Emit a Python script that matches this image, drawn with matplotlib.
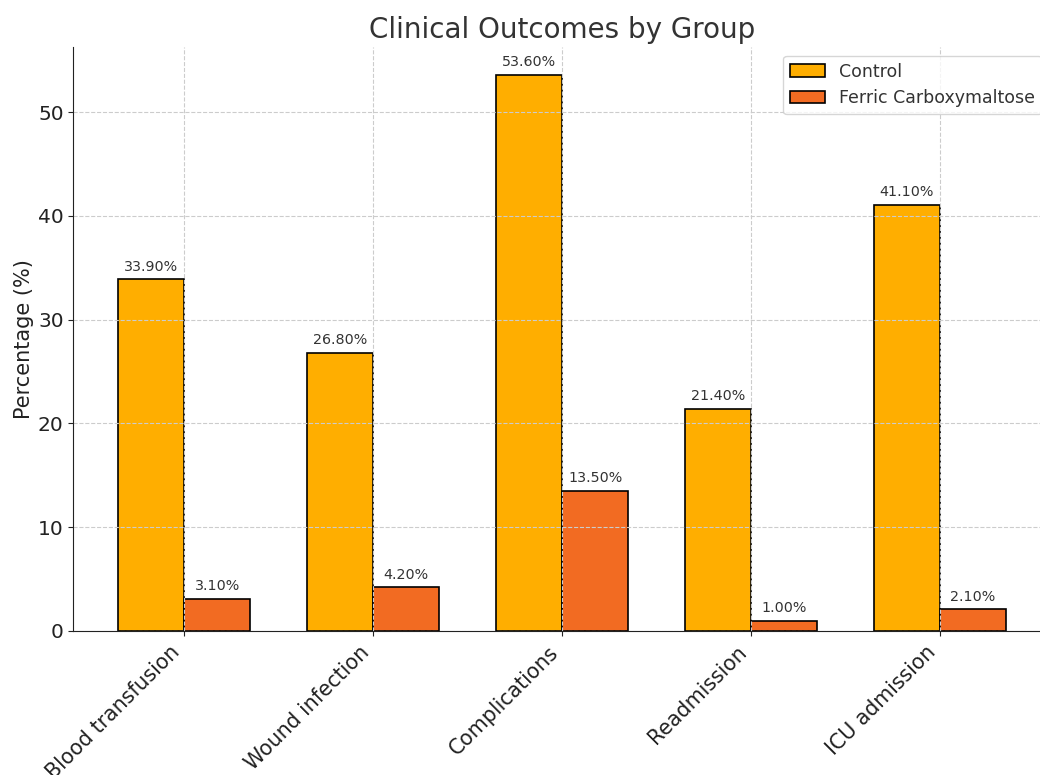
import numpy as np
import matplotlib.pyplot as plt

categories = ["Blood transfusion", "Wound infection", "Complications", "Readmission", "ICU admission"]
control = [33.9, 26.8, 53.6, 21.4, 41.1]
ferric = [3.1, 4.2, 13.5, 1.0, 2.1]

text_col = "#333333"
width = 0.35
x = np.arange(len(categories))

fig = plt.figure(figsize=(10.4, 7.75), dpi=100)
ax = fig.add_axes([73.4 / 1040, 144 / 775, 977.2 / 1040, 584 / 775])

b1 = ax.bar(x - width / 2, control, width, label="Control",
            color="#FFAE00", edgecolor="black", linewidth=1.2)
b2 = ax.bar(x + width / 2, ferric, width, label="Ferric Carboxymaltose",
            color="#F26B22", edgecolor="black", linewidth=1.2)

for bars in (b1, b2):
    for b in bars:
        h = b.get_height()
        ax.annotate(f"{h:.2f}%", (b.get_x() + b.get_width() / 2, h),
                    xytext=(0, 4), textcoords="offset points",
                    ha="center", va="bottom", fontsize=10.3, color=text_col)

ax.set_title("Clinical Outcomes by Group", fontsize=20, color=text_col, pad=6.5)
ax.set_ylabel("Percentage (%)", fontsize=15, color="#222222", labelpad=3)
ax.set_xticks(x)
ax.set_xticklabels(categories, rotation=45, ha="right", fontsize=14.8, color="#222222")
ax.tick_params(axis="y", labelsize=14.5, labelcolor="#222222")
ax.tick_params(axis="x", pad=4.5)
ax.tick_params(colors="#222222")
ax.grid(True, linestyle="--", color="#cccccc", linewidth=0.8)
for s in ("top", "right"):
    ax.spines[s].set_visible(False)
for s in ("left", "bottom"):
    ax.spines[s].set_color("#222222")

ax.legend(loc="upper right", fontsize=12.5, labelcolor=text_col)

fig.savefig("out.png", dpi=100)
